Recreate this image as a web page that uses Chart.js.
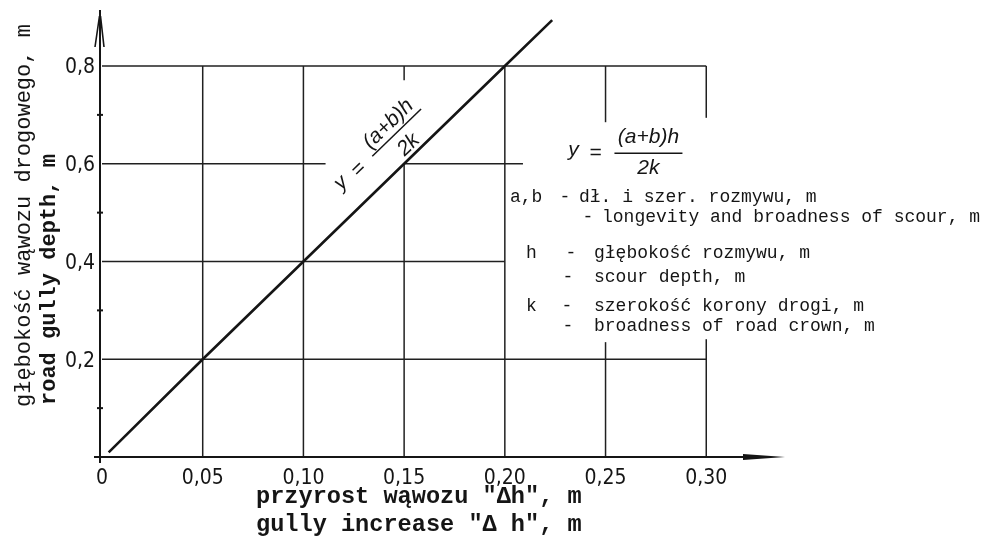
<!DOCTYPE html>
<html><head><meta charset="utf-8">
<script src="https://cdn.jsdelivr.net/npm/chart.js@4/dist/chart.umd.min.js"></script>
<style>html,body{margin:0;padding:0;background:#fff}</style>
</head><body>
<canvas id="c" width="982" height="540" style="width:982px;height:540px;display:block"></canvas>
<script>
// ---- data ----
const lineX = [0.0033, 0.05, 0.10, 0.15, 0.20, 0.2235];
const lineY = [0.0096, 0.20, 0.40, 0.60, 0.80, 0.894];
const xTicks = [0, 0.05, 0.10, 0.15, 0.20, 0.25, 0.30];
const xTickLabels = ['0', '0,05', '0,10', '0,15', '0,20', '0,25', '0,30'];
const yTicks = [0.2, 0.4, 0.6, 0.8];
const yTickLabels = ['0,2', '0,4', '0,6', '0,8'];
const yMinorTicks = [0.1, 0.3, 0.5, 0.7];
const yTitle = ['głębokość wąwozu drogowego, m', 'road gully depth, m'];
const xTitle = ['przyrost wąwozu "Δh", m', 'gully increase "Δ h", m'];
const formulaParts = ['y', '=', '(a+b)h', '2k'];
const legendLines = [
  ['a,b', '-', 'dł. i szer. rozmywu, m'],
  ['', '-', 'longevity and broadness of scour, m'],
  ['h', '-', 'głębokość rozmywu, m'],
  ['', '-', 'scour depth, m'],
  ['k', '-', 'szerokość korony drogi, m'],
  ['', '-', 'broadness of road crown, m']
];
// grid segments (value, from, to) in data units
const hGrid = [[0.8, 0, 0.30], [0.6, 0, 0.111], [0.6, 0.15, 0.209], [0.4, 0, 0.20], [0.2, 0, 0.30]];
const vGrid = [[0.05, 0, 0.8], [0.10, 0, 0.8], [0.15, 0, 0.6], [0.15, 0.771, 0.8], [0.20, 0, 0.8],
               [0.25, 0, 0.235], [0.25, 0.685, 0.8], [0.30, 0, 0.241], [0.30, 0.694, 0.8]];

const INK = '#151515';
const MONO = "'Liberation Mono', 'DejaVu Sans Mono', monospace";
const NARROW = "'Liberation Sans Narrow', 'DejaVu Sans Condensed', 'Liberation Sans', sans-serif";
const ITAL = "'Liberation Sans', Arial, sans-serif";

function drawFormula(ctx, cx, cy, ang, numY, denY) {
  ctx.save();
  ctx.translate(cx, cy);
  ctx.rotate(ang);
  ctx.fillStyle = INK;
  ctx.strokeStyle = INK;
  ctx.font = 'italic 21px ' + ITAL;
  ctx.textAlign = 'center';
  ctx.textBaseline = 'alphabetic';
  ctx.fillText(formulaParts[0], -75, 3);
  ctx.textBaseline = 'middle';
  ctx.fillText(formulaParts[1], -53, 0);
  ctx.textBaseline = 'alphabetic';
  ctx.fillText(formulaParts[2], 0, numY);
  ctx.fillText(formulaParts[3], 0, denY);
  ctx.lineWidth = 1.5;
  ctx.beginPath();
  ctx.moveTo(-34, 0); ctx.lineTo(34, 0);
  ctx.stroke();
  ctx.restore();
}

const decor = {
  id: 'decor',
  beforeDatasetsDraw(chart) {
    const ctx = chart.ctx, xs = chart.scales.x, ys = chart.scales.y;
    const X = v => xs.getPixelForValue(v), Y = v => ys.getPixelForValue(v);
    ctx.save();
    ctx.strokeStyle = '#202020';
    ctx.lineWidth = 1.5;
    ctx.lineCap = 'butt';
    hGrid.forEach(([v, a, b]) => { ctx.beginPath(); ctx.moveTo(X(a), Y(v)); ctx.lineTo(X(b), Y(v)); ctx.stroke(); });
    vGrid.forEach(([v, a, b]) => { ctx.beginPath(); ctx.moveTo(X(v), Y(a)); ctx.lineTo(X(v), Y(b)); ctx.stroke(); });
    // axes
    ctx.strokeStyle = INK;
    ctx.lineWidth = 2;
    const x0 = X(0) - 2, y0 = Y(0);
    ctx.beginPath(); ctx.moveTo(X(0) - 8, y0); ctx.lineTo(xs.right - 38, y0); ctx.stroke();
    ctx.beginPath(); ctx.moveTo(x0, y0 + 6); ctx.lineTo(x0, ys.top); ctx.stroke();
    // x arrow
    ctx.fillStyle = INK;
    ctx.beginPath();
    ctx.moveTo(xs.right - 41, y0 - 3); ctx.lineTo(xs.right + 1, y0); ctx.lineTo(xs.right - 41, y0 + 3);
    ctx.closePath(); ctx.fill();
    // y arrow barbs
    ctx.lineWidth = 1.6;
    ctx.beginPath();
    ctx.moveTo(x0 - 0.5, ys.top + 6); ctx.lineTo(x0 - 5, ys.top + 37);
    ctx.moveTo(x0 + 0.5, ys.top + 6); ctx.lineTo(x0 + 4, ys.top + 37);
    ctx.stroke();
    // minor ticks
    ctx.lineWidth = 2;
    yMinorTicks.forEach(v => { ctx.beginPath(); ctx.moveTo(x0 - 3, Y(v)); ctx.lineTo(x0 + 3, Y(v)); ctx.stroke(); });
    ctx.restore();
  },
  afterDraw(chart) {
    const ctx = chart.ctx, xs = chart.scales.x, ys = chart.scales.y;
    const X = v => xs.getPixelForValue(v), Y = v => ys.getPixelForValue(v);
    ctx.save();
    ctx.fillStyle = INK;
    // y title (rotated)
    ctx.textAlign = 'left';
    ctx.textBaseline = 'alphabetic';
    ctx.save();
    ctx.translate(30, 407); ctx.rotate(-Math.PI / 2);
    ctx.font = '22px ' + MONO; ctx.fillText(yTitle[0], 0, 0);
    ctx.restore();
    ctx.save();
    ctx.translate(55, 405); ctx.rotate(-Math.PI / 2);
    ctx.font = 'bold 22px ' + MONO; ctx.fillText(yTitle[1], 0, 0);
    ctx.restore();
    // x title
    ctx.font = 'bold 23.6px ' + MONO;
    ctx.fillText(xTitle[0], 256, 503);
    ctx.fillText(xTitle[1], 256, 531);
    // legend
    ctx.font = '18px ' + MONO;
    const rows = [
      { y: 202, lx: 510, dx: 565, tx: 579 },
      { y: 222, lx: 0, dx: 588, tx: 602 },
      { y: 258, lx: 526, dx: 571, tx: 594 },
      { y: 282, lx: 0, dx: 568, tx: 594 },
      { y: 311, lx: 526, dx: 567, tx: 594 },
      { y: 331, lx: 0, dx: 568, tx: 594 }
    ];
    legendLines.forEach((l, i) => {
      const r = rows[i];
      ctx.textAlign = 'left';
      if (l[0]) ctx.fillText(l[0], r.lx, r.y);
      ctx.textAlign = 'center';
      ctx.fillText(l[1], r.dx, r.y);
      ctx.textAlign = 'left';
      ctx.fillText(l[2], r.tx, r.y);
    });
    // formulas
    const ang = Math.atan2(Y(0.8) - Y(0), X(0.2) - X(0));
    drawFormula(ctx, X(0.1463), Y(0.6637), ang, -6, 23);
    drawFormula(ctx, X(0.2713), Y(0.6213), 0, -10, 21);
    ctx.restore();
  }
};

new Chart(document.getElementById('c'), {
  type: 'line',
  data: {
    datasets: [{
      data: lineX.map((x, i) => ({ x: x, y: lineY[i] })),
      borderColor: INK, borderWidth: 2.6, pointRadius: 0, tension: 0, fill: false
    }]
  },
  options: {
    responsive: false, animation: false, devicePixelRatio: 1,
    layout: { padding: { top: 10, right: 198, left: 0, bottom: 0 } },
    plugins: { legend: { display: false }, tooltip: { enabled: false }, title: { display: false } },
    scales: {
      x: {
        type: 'linear', min: 0, max: 0.3386,
        grid: { display: false, drawTicks: false }, border: { display: false },
        afterBuildTicks: s => { s.ticks = xTicks.map(v => ({ value: v })); },
        afterFit: s => { s.height = 83; s.paddingLeft = 0; s.paddingRight = 0; },
        ticks: {
          autoSkip: false, maxRotation: 0, padding: 9, color: INK,
          font: { family: NARROW, size: 21 },
          callback: (v) => xTickLabels[xTicks.indexOf(v)]
        }
      },
      y: {
        type: 'linear', min: 0, max: 0.9146,
        grid: { display: false, drawTicks: false }, border: { display: false },
        afterBuildTicks: s => { s.ticks = yTicks.map(v => ({ value: v })); },
        afterFit: s => { s.width = 102; s.paddingTop = 0; s.paddingBottom = 0; },
        ticks: {
          autoSkip: false, padding: 7, labelOffset: 2, color: INK,
          font: { family: NARROW, size: 21 },
          callback: (v) => yTickLabels[yTicks.indexOf(v)]
        }
      }
    }
  },
  plugins: [decor]
});
</script>
</body></html>
